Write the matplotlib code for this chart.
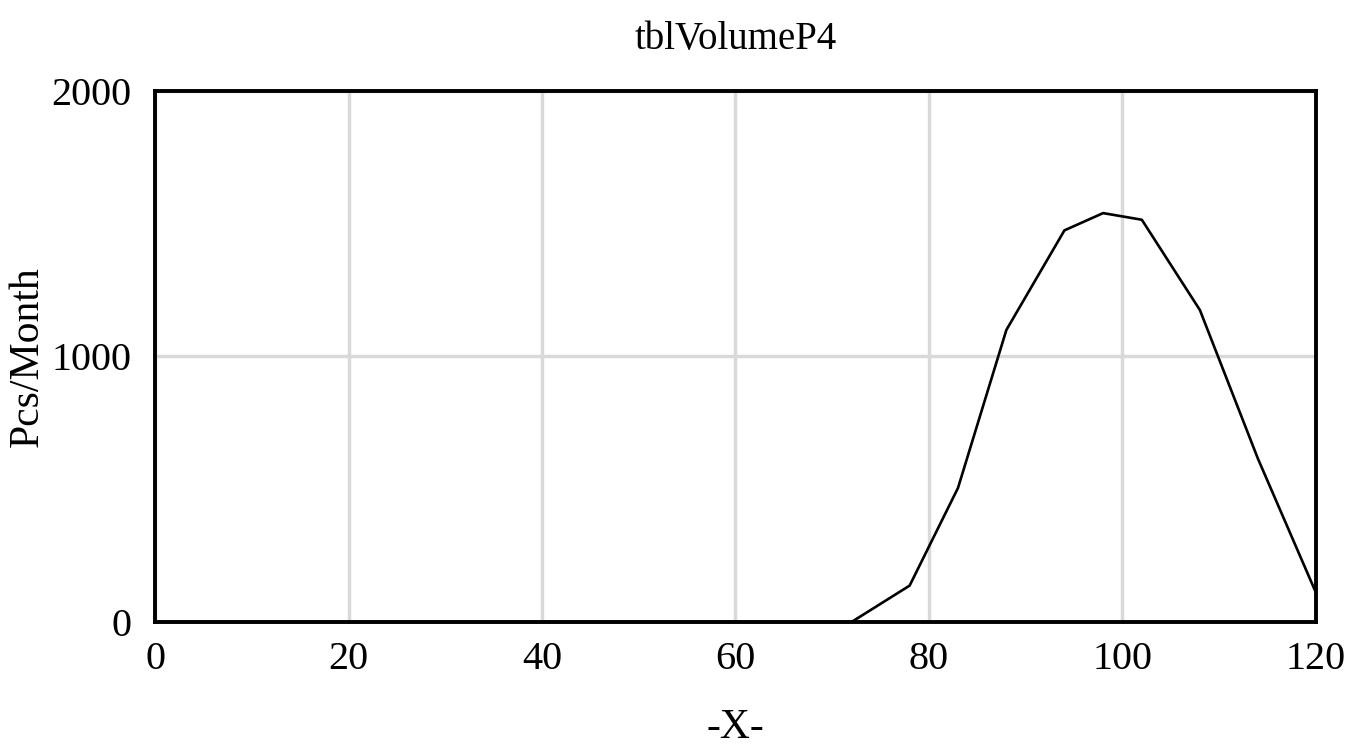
import matplotlib
matplotlib.use("Agg")
import matplotlib.pyplot as plt

x_vals = [0, 72, 78, 83, 88, 94, 98, 102, 108, 114, 120]
y_vals = [0, 0, 137, 505, 1100, 1475, 1540, 1515, 1175, 615, 110]
x_ticks = [0, 20, 40, 60, 80, 100, 120]
y_ticks = [0, 1000, 2000]

plt.rcParams['font.family'] = ['Liberation Serif', 'DejaVu Serif']

fig = plt.figure(figsize=(13.55, 7.55), dpi=100)
ax = fig.add_axes([0.1144, 0.1762, 0.9712 - 0.1144, 0.8795 - 0.1762])

ax.plot(x_vals, y_vals, color='black', linewidth=1.9, zorder=3, clip_on=False)
ax.set_xlim(0, 120)
ax.set_ylim(0, 2000)
ax.set_xticks(x_ticks)
ax.set_yticks(y_ticks)
ax.grid(True, color='#d9d9d9', linewidth=2.5)
ax.set_axisbelow(True)
for s in ax.spines.values():
    s.set_linewidth(2.8)
    s.set_color('black')
ax.tick_params(axis='both', length=0, labelsize=29)
ax.tick_params(axis='x', pad=14)
ax.tick_params(axis='y', pad=17)
ax.set_title('tblVolumeP4', fontsize=28, pad=30)
ax.set_xlabel('-X-', fontsize=30, labelpad=22)
ax.set_ylabel('Pcs/Month', fontsize=30, labelpad=3)

fig.savefig('out.png', dpi=100)
